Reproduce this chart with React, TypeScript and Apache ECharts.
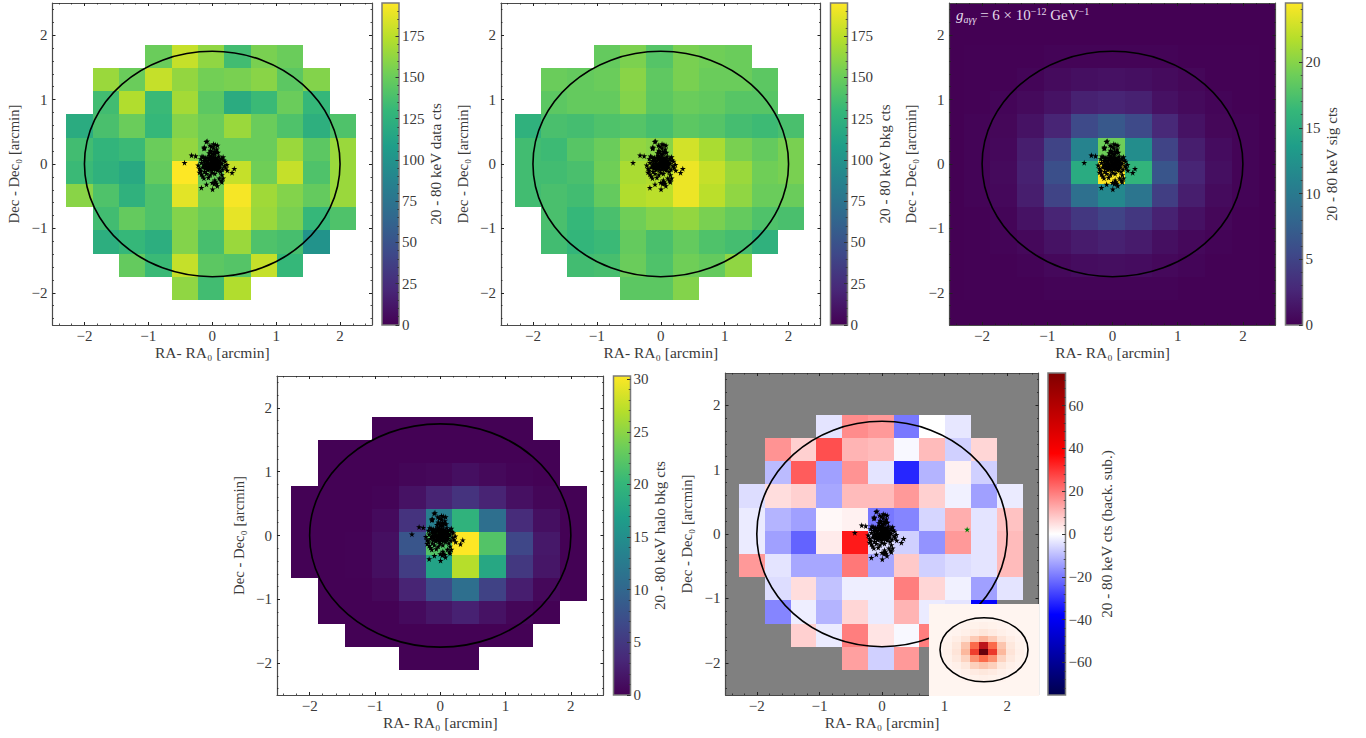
import React, { useEffect, useRef } from "react";
import * as echarts from "echarts";

const _ = null;
const dataCounts = [
  [_, _, _, 150, 178, 162, 135, 155, 150, _, _],
  [_, 165, 150, 178, 163, 153, 155, 160, 145, 158, _],
  [_, 135, 172, 132, 168, 145, 120, 132, 150, 130, _],
  [120, 138, 150, 130, 158, 150, 165, 150, 140, 123, 140],
  [135, 127, 132, 150, 163, 150, 150, 150, 165, 145, 165],
  [132, 125, 118, 148, 195, 150, 178, 152, 178, 140, 165],
  [160, 140, 125, 140, 187, 155, 193, 167, 158, 148, 165],
  [_, 135, 148, 140, 158, 150, 188, 165, 155, 130, 140],
  [_, 122, 130, 122, 158, 137, 165, 140, 137, 100, _],
  [_, _, 148, 132, 178, 145, 142, 178, 130, _, _],
  [_, _, _, _, 162, 135, 172, _, _, _, _],
];
const bkgCounts = [
  [_, _, _, 148, 156, 142, 155, 152, 150, _, _],
  [_, 150, 148, 150, 160, 146, 155, 150, 150, 145, _],
  [_, 145, 148, 148, 158, 145, 150, 148, 143, 143, _],
  [125, 138, 136, 140, 142, 137, 145, 142, 136, 133, 138],
  [135, 133, 143, 150, 163, 160, 182, 170, 155, 148, 155],
  [135, 135, 138, 152, 170, 172, 190, 178, 165, 152, 155],
  [135, 138, 135, 148, 172, 175, 190, 175, 162, 150, 150],
  [_, 138, 130, 138, 152, 158, 163, 155, 148, 140, 138],
  [_, 135, 128, 132, 148, 138, 148, 140, 136, 125, _],
  [_, _, 135, 137, 150, 140, 152, 148, 162, _, _],
  [_, _, _, _, 145, 145, 158, _, _, _, _],
];
const sigCounts = [
  [0.1, 0.1, 0.1, 0.2, 0.2, 0.2, 0.2, 0.2, 0.1, 0.1, 0.1],
  [0.1, 0.1, 0.3, 0.7, 1.0, 1.1, 1.0, 0.7, 0.4, 0.1, 0.1],
  [0.1, 0.3, 0.6, 1.2, 2.2, 2.5, 2.2, 1.1, 0.6, 0.3, 0.1],
  [0.2, 0.4, 1.2, 2.5, 5.5, 6.8, 5.5, 2.8, 1.2, 0.4, 0.2],
  [0.2, 0.5, 2.0, 5.0, 11.0, 19.0, 12.0, 5.0, 2.0, 0.8, 0.2],
  [0.2, 0.6, 2.2, 6.0, 15.0, 24.5, 16.0, 6.5, 2.5, 1.0, 0.2],
  [0.2, 0.5, 2.0, 5.0, 9.0, 11.5, 9.5, 4.5, 2.0, 0.7, 0.2],
  [0.1, 0.3, 1.2, 2.5, 4.0, 5.0, 4.0, 2.3, 1.1, 0.4, 0.1],
  [0.1, 0.2, 0.5, 1.2, 1.8, 2.2, 1.8, 1.0, 0.5, 0.2, 0.1],
  [0.1, 0.1, 0.2, 0.5, 0.8, 0.9, 0.8, 0.5, 0.3, 0.1, 0.1],
  [0.1, 0.1, 0.1, 0.2, 0.2, 0.2, 0.2, 0.2, 0.1, 0.1, 0.1],
];
const haloCounts = [
  [_, _, _, 0.05, 0.05, 0.05, 0.05, 0.05, 0.05, _, _],
  [_, 0.05, 0.05, 0.05, 0.1, 0.1, 0.1, 0.1, 0.05, 0.05, _],
  [_, 0.05, 0.05, 0.1, 0.4, 0.6, 1.2, 0.7, 0.3, 0.1, _],
  [0.05, 0.05, 0.1, 0.3, 1.5, 3.0, 4.5, 3.0, 1.3, 0.4, 0.05],
  [0.05, 0.05, 0.1, 0.8, 4.5, 13.0, 19.5, 11.0, 3.8, 1.2, 0.1],
  [0.05, 0.05, 0.2, 1.2, 8.0, 22.0, 30.3, 22.0, 6.5, 2.0, 0.1],
  [0.05, 0.05, 0.2, 1.2, 5.5, 17.5, 27.0, 18.0, 5.0, 1.8, 0.1],
  [_, 0.05, 0.1, 0.6, 3.0, 7.0, 11.0, 6.0, 2.5, 0.6, 0.1],
  [_, 0.05, 0.05, 0.1, 0.8, 1.8, 2.8, 1.5, 0.4, 0.1, _],
  [_, _, 0.05, 0.05, 0.1, 0.1, 0.1, 0.1, 0.05, _, _],
  [_, _, _, _, 0.05, 0.05, 0.05, _, _, _, _],
];
const residCounts = [
  [_, _, _, -4, 17, 15, -20, 0, -3.5, _, _],
  [_, 16, 7, 26, 11, 10, -1, 10, -7, 6, _],
  [_, -10, 24, -14, 16, -4, -32, -11, 2, -7, _],
  [-5, 5, 7, -13, 10, 10, 15, 7, -2, -14, -3],
  [-3, -11, -14, 1, 2, -20, -18, -6, 12, -4, 9],
  [-3, -14, -23, 3, 34, -5, -7, -16, 15, -4, 10],
  [15, -4, -13, -13, 20, -13, 8, -7, -5, -4, 10],
  [_, -5, 5, -9, -2.5, -2.5, 19, 6, -2, -14, -4],
  [_, -18, -2.5, -11, 6, -3, 11, -3, -4, -37, _],
  [_, _, 7, -3, 19, 4, -1, 19, 0, _, _],
  [_, _, _, _, 14, -7, 15, _, _, _, _],
];
const insetSignal = [
  [_, _, _, _, _, _, _, _, _, _, _],
  [_, _, _, 0.01, 0.02, 0.03, 0.02, 0.01, _, _, _],
  [_, _, 0.01, 0.03, 0.06, 0.09, 0.06, 0.03, 0.01, _, _],
  [_, 0.01, 0.04, 0.1, 0.2, 0.27, 0.2, 0.1, 0.04, 0.01, _],
  [_, 0.02, 0.08, 0.22, 0.5, 0.8, 0.5, 0.22, 0.08, 0.02, _],
  [_, 0.03, 0.1, 0.26, 0.62, 1.0, 0.64, 0.26, 0.1, 0.03, _],
  [_, 0.02, 0.07, 0.17, 0.38, 0.5, 0.38, 0.17, 0.07, 0.02, _],
  [_, 0.01, 0.03, 0.08, 0.18, 0.22, 0.18, 0.08, 0.03, 0.01, _],
  [_, _, 0.01, 0.03, 0.06, 0.08, 0.06, 0.03, 0.01, _, _],
  [_, _, _, 0.01, 0.02, 0.03, 0.02, 0.01, _, _, _],
  [_, _, _, _, _, _, _, _, _, _, _],
];

const starX = [
  -0.434, -0.324, -0.26, 0.345, 0.31, 0.235, -0.17, -0.09, 0.005, 0.08, 0.15, 0.17, 0.11, 0.15, 0.04, 0.0, 0.03, -0.15, -0.13, -0.06, 0.05, 0.07, 0.14, -0.2, -0.17,
  -0.094, -0.08, -0.125, -0.13, -0.12, -0.037, 0.02, 0.05, 0.083, -0.03, 0.02, 0.07, -0.05, -0.02, 0.03, 0.06, 0.09, -0.015, 0.0, 0.04,
  -0.02, 0.03, -0.05, 0.06, 0.0, -0.08, 0.09, -0.11, 0.12, 0.02, -0.04, 0.05, -0.1, 0.11, -0.13, 0.15, -0.07, 0.08, -0.15, 0.0, -0.12, 0.13, 0.18, -0.17, 0.04, -0.03, -0.09, 0.1, -0.04, 0.02, 0.14, -0.14, 0.01, 0.07, -0.06, 0.1, -0.02, 0.015, -0.09, 0.05, -0.03, 0.06, -0.12, 0.16, -0.18, -0.2, -0.22, -0.18, 0.2, 0.23, 0.15, 0.17, -0.16, 0.21, 0.19,
  -0.07, -0.04, -0.01, 0.02, 0.05, 0.08, -0.1, -0.06, -0.02, 0.01, 0.04, 0.08, 0.11, -0.12, -0.08, -0.05, -0.01, 0.03, 0.07, 0.1, -0.09, -0.04, 0.0, 0.04, 0.09, -0.06, -0.02, 0.02, 0.06, -0.11, 0.12, -0.13, 0.13,
];
const starY = [
  0.02, 0.135, 0.124, -0.072, -0.135, -0.1, -0.367, -0.316, -0.393, -0.34, -0.28, -0.22, -0.22, -0.17, -0.25, -0.29, -0.31, -0.19, -0.22, -0.21, -0.28, -0.3, -0.26, -0.13, -0.16,
  0.347, 0.355, 0.26, 0.24, 0.25, 0.29, 0.31, 0.3, 0.29, 0.21, 0.25, 0.23, 0.17, 0.19, 0.2, 0.19, 0.18, 0.27, 0.16, 0.16,
  0.0, 0.02, -0.03, -0.02, 0.05, 0.04, 0.05, -0.02, -0.05, -0.08, 0.08, 0.1, 0.1, 0.02, 0.05, 0.01, -0.09, -0.1, -0.05, -0.13, -0.12, -0.12, 0.06, 0.02, -0.15, -0.17, -0.15, 0.12, 0.13, 0.14, 0.08, 0.11, -0.03, 0.07, 0.01, -0.07, 0.1, 0.0, -0.06, -0.05, -0.06, 0.03, 0.08, -0.08, -0.1, -0.07, -0.02, 0.08, 0.04, -0.01, 0.09, 0.11, 0.12, -0.06, -0.03,
  0.1, 0.09, 0.11, 0.09, 0.07, 0.08, 0.05, 0.06, 0.05, 0.07, 0.04, 0.02, 0.06, 0.0, 0.01, -0.01, 0.02, 0.0, -0.01, -0.02, -0.04, -0.03, -0.04, -0.03, -0.05, -0.07, -0.09, -0.07, -0.08, -0.07, -0.02, -0.02, 0.03,
];
const extraStarX = [1.36];
const extraStarY = [0.07];

const majorTicks = [-2, -1, 0, 1, 2];
const minorTicks = [-2.4, -2.2, -1.8, -1.6, -1.4, -1.2, -0.8, -0.6, -0.4, -0.2, 0.2, 0.4, 0.6, 0.8, 1.2, 1.4, 1.6, 1.8, 2.2, 2.4];
const viridis = ["#440154", "#482878", "#3e4989", "#31688e", "#26828e", "#1f9e89", "#35b779", "#6ece58", "#b5de2b", "#fde725"];
const seismic = ["#00004d", "#0000ff", "#ffffff", "#ff0000", "#800000"];
const reds = ["#fff5f0", "#fee0d2", "#fcbba1", "#fc9272", "#fb6a4a", "#ef3b2c", "#cb181d", "#a50f15", "#67000d"];

const FONT = "Liberation Serif";
const TXT = "#3a3a3a";
const LINE = "#4a4a4a";
const LEFT_EDGE = -2.285, COL_W = 0.412, TOP_EDGE = 1.85, ROW_H = 0.36;

const cells = (rows: (number | null)[][]) => {
  const out: number[][] = [];
  rows.forEach((row, r) =>
    row.forEach((v, c) => {
      if (v !== null) out.push([LEFT_EDGE + c * COL_W, LEFT_EDGE + (c + 1) * COL_W, TOP_EDGE - r * ROW_H, TOP_EDGE - (r + 1) * ROW_H, v]);
    })
  );
  return out;
};
const fmt = (v: number) => String(v).replace("-", "\u2212");
const pairs = (xs: number[], ys: number[]) => xs.map((x, i) => [x, ys[i]]);
const STAR = "path://M50 0L61 35L98 35L68 57L79 91L50 70L21 91L32 57L2 35L39 35Z";

const renderCell = (_p: any, api: any) => {
  const a = api.coord([api.value(0), api.value(2)]);
  const b = api.coord([api.value(1), api.value(3)]);
  const x = Math.round(a[0]), y = Math.round(a[1]);
  return { type: "rect", shape: { x, y, width: Math.round(b[0]) - x, height: Math.round(b[1]) - y }, style: { fill: api.visual("color") } };
};
const renderEllipse = (_p: any, api: any) => {
  const c = api.coord([api.value(0), api.value(1)]);
  const s = api.size([api.value(2), api.value(3)]);
  return { type: "ellipse", shape: { cx: c[0], cy: c[1], rx: s[0], ry: s[1] }, style: { fill: "none", stroke: "#000", lineWidth: 1.6 } };
};

function buildOption() {
  const grid: any[] = [], xAxis: any[] = [], yAxis: any[] = [], series: any[] = [], visualMap: any[] = [];
  const label = { fontFamily: FONT, fontSize: 15, color: TXT };
  const nameStyle = (size: number) => ({ fontFamily: FONT, fontSize: size, color: TXT });

  const addAxes = (g: number, names?: [string, string]) => {
    const base = { type: "value", gridIndex: g, min: -2.5, max: 2.5, splitLine: { show: false }, z: 10 };
    const lineOn = { show: true, onZero: false, lineStyle: { color: LINE, width: 1.2 } };
    const hiddenLabel = { show: false };
    const mk = (arr: any[], positions: string[], isX: boolean) => {
      positions.forEach((pos, i) => {
        arr.push({
          ...base, position: pos, axisLine: lineOn,
          axisTick: { show: true, inside: true, length: 3, customValues: majorTicks, lineStyle: { color: "#222", width: 1 } },
          axisLabel: i === 0 ? { show: true, inside: false, margin: isX ? 3 : 5, customValues: majorTicks, formatter: fmt, ...label } : hiddenLabel,
          ...(i === 0 && names ? { name: isX ? names[0] : names[1], nameLocation: "middle", nameGap: isX ? 19 : 31, nameRotate: isX ? 0 : 90, nameTextStyle: nameStyle(isX ? 15.5 : 14.7) } : {}),
        });
        arr.push({
          ...base, position: pos, axisLine: { show: false, onZero: false },
          axisTick: { show: true, inside: true, length: 1.5, customValues: minorTicks, lineStyle: { color: "#222", width: 0.8 } },
          axisLabel: hiddenLabel,
        });
      });
    };
    const x0 = xAxis.length, y0 = yAxis.length;
    mk(xAxis, ["bottom", "top"], true);
    mk(yAxis, ["left", "right"], false);
    return { x0, y0 };
  };

  const heat = (g: { x0: number; y0: number }, rows: any[], colors: string[], min: number, max: number, z = 2) => {
    visualMap.push({ type: "continuous", show: false, seriesIndex: series.length, dimension: 4, min, max, inRange: { color: colors } });
    series.push({ type: "custom", xAxisIndex: g.x0, yAxisIndex: g.y0, renderItem: renderCell, data: cells(rows), z, silent: true, encode: { x: [0, 1], y: [2, 3] }, clip: false });
  };
  const ellipse = (g: { x0: number; y0: number }, z = 3) =>
    series.push({ type: "custom", xAxisIndex: g.x0, yAxisIndex: g.y0, renderItem: renderEllipse, data: [[0, 0, 2, 1.75]], z, silent: true, encode: { x: 0, y: 1 } });
  const stars = (g: { x0: number; y0: number }, xs: number[], ys: number[], color = "#000") =>
    series.push({ type: "scatter", xAxisIndex: g.x0, yAxisIndex: g.y0, data: pairs(xs, ys), symbol: STAR, symbolSize: 6, itemStyle: { color, opacity: 1 }, z: 5, silent: true });

  const panel = (r: number[], rows: any[], colors: string[], min: number, max: number, cb: number[], ticks: number[], minors: number[], cbName: string, cbGap: number, bg?: string) => {
    const gi = grid.length;
    grid.push({ left: r[0], top: r[1], width: r[2] - r[0], height: r[3] - r[1], show: !!bg, backgroundColor: bg || "transparent", borderWidth: 0 });
    const g = addAxes(gi, ["RA- RA\u2080 [arcmin]", "Dec - Dec\u2080 [arcmin]"]);
    heat(g, rows, colors, min, max);
    ellipse(g);
    stars(g, starX, starY);
    // colour bar
    const ci = grid.length;
    grid.push({ left: cb[0], top: r[1], width: cb[1] - cb[0], height: r[3] - r[1] });
    const xi = xAxis.length, yi = yAxis.length;
    xAxis.push({ type: "value", gridIndex: ci, min: 0, max: 1, show: false });
    yAxis.push({
      type: "value", gridIndex: ci, position: "right", min, max, z: 10, splitLine: { show: false },
      axisLine: { show: false, onZero: false },
      axisTick: { show: true, inside: true, length: 3.5, customValues: ticks, lineStyle: { color: "#333", width: 1 } },
      axisLabel: { show: true, margin: 3, customValues: ticks, formatter: fmt, ...label },
      name: cbName, nameLocation: "middle", nameGap: cbGap, nameRotate: 90, nameTextStyle: nameStyle(15.2),
    });
    yAxis.push({
      type: "value", gridIndex: ci, position: "right", min, max, z: 10, splitLine: { show: false },
      axisLine: { show: false, onZero: false },
      axisTick: { show: true, inside: true, length: 1.8, customValues: minors, lineStyle: { color: "#333", width: 0.8 } },
      axisLabel: { show: false },
    });
    series.push({
      type: "custom", xAxisIndex: xi, yAxisIndex: yi, silent: true, z: 2, encode: { x: [0, 1], y: [2, 3] },
      data: [[0, 1, min, max]],
      renderItem: (_p: any, api: any) => {
        const a = api.coord([api.value(0), api.value(3)]);
        const b = api.coord([api.value(1), api.value(2)]);
        return {
          type: "rect", shape: { x: a[0], y: a[1], width: b[0] - a[0], height: b[1] - a[1] },
          style: {
            stroke: "#7a7a7a", lineWidth: 1.5,
            fill: { type: "linear", x: 0, y: 1, x2: 0, y2: 0, colorStops: colors.map((c, i) => ({ offset: i / (colors.length - 1), color: c })) },
          },
        };
      },
    });
    return g;
  };

  const t25 = [0, 25, 50, 75, 100, 125, 150, 175];
  const m25 = [5, 10, 15, 20, 30, 35, 40, 45, 55, 60, 65, 70, 80, 85, 90, 95, 105, 110, 115, 120, 130, 135, 140, 145, 155, 160, 165, 170, 180, 185, 190];
  panel([52.5, 3, 372, 325], dataCounts, viridis, 0, 195, [382, 399], t25, m25, "20 - 80 keV data cts", 25);
  panel([501, 3, 820.5, 325], bkgCounts, viridis, 0, 195, [830.5, 847.5], t25, m25, "20 - 80 keV bkg cts", 25);
  panel([949.5, 3, 1275.5, 325], sigCounts, viridis, 0, 24.5, [1285.5, 1302.5],
    [0, 5, 10, 15, 20],
    [1, 2, 3, 4, 6, 7, 8, 9, 11, 12, 13, 14, 16, 17, 18, 19, 21, 22, 23, 24], "20 - 80 keV sig cts", 20, "#440154");
  panel([277, 376, 603.5, 695], haloCounts, viridis, 0, 30.3, [613.5, 630.5],
    [0, 5, 10, 15, 20, 25, 30],
    [1, 2, 3, 4, 6, 7, 8, 9, 11, 12, 13, 14, 16, 17, 18, 19, 21, 22, 23, 24, 26, 27, 28, 29], "20 - 80 keV halo bkg cts", 19);
  const main = panel([725.5, 373, 1038.5, 695], residCounts, seismic, -75.3, 75.3, [1048, 1065.5],
    [-60, -40, -20, 0, 20, 40, 60],
    [-72, -68, -64, -56, -52, -48, -44, -36, -32, -28, -24, -16, -12, -8, -4, 4, 8, 12, 16, 24, 28, 32, 36, 44, 48, 52, 56, 64, 68, 72], "20 - 80 keV cts (back. sub.)", 33, "#808080");
  stars(main, extraStarX, extraStarY, "#008000");

  // inset
  const ii = grid.length;
  grid.push({ left: 929, top: 604, width: 110, height: 91.5 });
  const ix = xAxis.length, iy = yAxis.length;
  xAxis.push({ type: "value", gridIndex: ii, min: -2.5, max: 2.5, show: false });
  yAxis.push({ type: "value", gridIndex: ii, min: -2.5, max: 2.5, show: false });
  visualMap.push({ type: "continuous", show: false, seriesIndex: series.length, dimension: 4, min: 0, max: 1, inRange: { color: reds } });
  const insetBg = { x0: ix, y0: iy };
  series.push({
    type: "custom", xAxisIndex: ix, yAxisIndex: iy, renderItem: renderCell, silent: true, z: 20, encode: { x: [0, 1], y: [2, 3] },
    data: [[-2.5, 2.5, 2.5, -2.5, 0], ...cells(insetSignal)],
  });
  ellipse(insetBg, 21);

  const t = (fs: number, extra: any = {}) => ({ fontFamily: FONT, fontSize: fs, color: "#e4dcea", ...extra });
  return {
    animation: false,
    backgroundColor: "#fff",
    grid, xAxis, yAxis, series, visualMap,
    graphic: [
      {
        type: "text", x: 956, y: 6, z: 30, silent: true,
        style: {
          text: "{g|g}{sub|a\u03b3\u03b3}{n| = 6 \u00d7 10}{sup|\u221212}{n| GeV}{sup|\u22121}",
          fill: "#e4dcea",
          rich: {
            g: t(15, { fontStyle: "italic", lineHeight: 18 }),
            sub: t(10, { fontStyle: "italic", verticalAlign: "bottom", lineHeight: 18 }),
            n: t(15, { lineHeight: 18 }),
            sup: t(10, { verticalAlign: "top", lineHeight: 18 }),
          },
        },
      },
    ],
  };
}

export default function App() {
  const ref = useRef<HTMLDivElement>(null);
  useEffect(() => {
    const chart = echarts.init(ref.current!, undefined, { renderer: "svg" });
    chart.setOption(buildOption() as any);
    return () => chart.dispose();
  }, []);
  return <div ref={ref} style={{ position: "absolute", left: 0, top: 0, width: 1366, height: 738 }} />;
}
